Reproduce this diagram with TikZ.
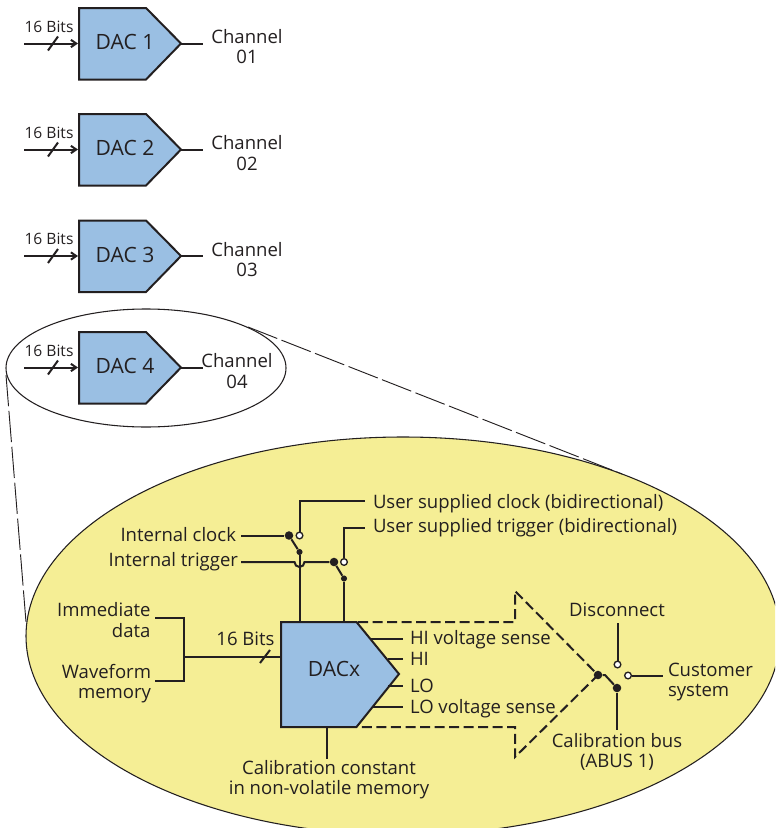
\documentclass[tikz,border=0pt]{standalone}
\usepackage{fontspec}
\setmainfont{Open Sans}
\usetikzlibrary{arrows.meta,calc}
\definecolor{dacblue}{HTML}{9ABFE3}
\definecolor{padyellow}{HTML}{F5EE95}
\definecolor{ink}{HTML}{231F20}
\tikzset{
  x=0.75pt,y=-0.75pt,
  wire/.style={draw=ink,line width=1.5pt},
  thinwire/.style={draw=ink,line width=1.5pt},
  dashwire/.style={draw=ink,line width=1.5pt,dash pattern=on 7.5pt off 3.4pt},
  zoomline/.style={draw=ink,line width=0.7pt,dash pattern=on 23.5pt off 3.5pt},
  dacbody/.style={draw=ink,line width=1.5pt,fill=dacblue,line join=miter},
  lbl/.style={text=ink,inner sep=0pt,outer sep=0pt,font=\fontsize{13.9}{15.4}\selectfont,align=center},
  small/.style={text=ink,inner sep=0pt,outer sep=0pt,font=\fontsize{11.7}{13}\selectfont},
  dac/.style={text=ink,inner sep=0pt,font=\fontsize{15.8}{17}\selectfont},
  closedpt/.style={circle,fill=ink,inner sep=0pt,minimum size=6.4pt},
  smallpt/.style={circle,fill=ink,inner sep=0pt,minimum size=4.6pt},
  openpt/.style={circle,draw=ink,fill=white,line width=1pt,inner sep=0pt,minimum size=5pt},
}
\newcommand{\dacunit}[2]{% y-top, number
  \begin{scope}[shift={(0,#1)}]
    \path[dacbody] (79,0) -- (146,0) -- (181,35.5) -- (146,71.5) -- (79,71.5) -- cycle;
    \coordinate (tip#2) at (181,35.5);
    \coordinate (in#2) at (78,35.5);
    \coordinate (st#2) at (24,35.5);
    \coordinate (sa#2) at (48,42.5);
    \coordinate (sb#2) at (58,28.5);
    \node[dac] (dac#2) at (125,34) {DAC #2};
    \node[small] (bits#2) at (49,18.5) {16 Bits};
    \draw[thinwire,-{Straight Barb[length=4pt,width=5.5pt]}] (st#2) -- (in#2);
    \draw[thinwire] (sa#2) -- (sb#2);
  \end{scope}
}
\begin{document}
\begin{tikzpicture}
\useasboundingbox (0,0) rectangle (775,828);
\begin{scope}
\clip (0,0) rectangle (775,828);
\coordinate (ellc) at (403,636);
\path[fill=padyellow,draw=ink,line width=0.8pt] (ellc) ellipse [x radius=377,y radius=199];
\end{scope}
% small ellipse
\draw[draw=ink,line width=0.8pt] (146,368) ellipse [x radius=140,y radius=59];
\coordinate (za) at (248,327);
\coordinate (zb) at (622,474);
\coordinate (zc) at (6,375);
\coordinate (zd) at (26,622);
\path[zoomline] (za) -- (zb);
\path[zoomline] (zc) -- (zd);
% upper DACs
\dacunit{8}{1}
\dacunit{114}{2}
\dacunit{220.5}{3}
\dacunit{332}{4}
\node[lbl] (ch1) at (247,46.5) {Channel\\01};
\node[lbl] (ch2) at (247,153) {Channel\\02};
\node[lbl] (ch3) at (247,259.5) {Channel\\03};
\node[lbl] (ch4) at (237,371) {Channel\\04};
\draw[wire] (tip1) -- (203,43.5);
\draw[wire] (tip2) -- (203,149.5);
\draw[wire] (tip3) -- (203,256);
\draw[wire] (tip4) -- (203,367.5);
% dashed big arrow
\coordinate (d1) at (358,622);
\coordinate (d2) at (515,622);
\coordinate (d3) at (515,591);
\coordinate (d4) at (598,675);
\coordinate (d5) at (515,757);
\coordinate (d6) at (515,727);
\coordinate (d7) at (358,727);
\path[dashwire] (d1) -- (d2) -- (d3) -- (d4) -- (d5) -- (d6) -- (d7);
% DACx
\path[dacbody] (281,622) -- (356.5,622) -- (399,674) -- (356.5,727) -- (281,727) -- cycle;
\node[dac] (dacx) at (334,669) {DACx};
\coordinate (xt1) at (299.5,622);
\coordinate (xt2) at (344,622);
\coordinate (xl) at (281,656.5);
\coordinate (xb) at (327,727);
% output labels
\node[lbl,anchor=west] (hvs) at (410,640) {HI voltage sense};
\node[lbl,anchor=west] (hi) at (410,658.5) {HI};
\node[lbl,anchor=west] (lo) at (410,686) {LO};
\node[lbl,anchor=west] (lvs) at (410,708.5) {LO voltage sense};
\coordinate (ohvs) at (371,639);
\coordinate (ohi) at (388,659);
\coordinate (olo) at (388,685.5);
\coordinate (olvs) at (372,707);
\draw[wire,shorten >=5pt] (ohvs) -- (ohvs -| hvs.west);
\draw[wire,shorten >=5pt] (ohi) -- (ohi -| hi.west);
\draw[wire,shorten >=5pt] (olo) -- (olo -| lo.west);
\draw[wire,shorten >=5pt] (olvs) -- (olvs -| lvs.west);
% calibration constant
\node[lbl] (cal) at (329,779.5) {Calibration constant\\in non-volatile memory};
\draw[wire] (xb) -- (327,759);
% left inputs
\node[lbl,align=right,anchor=east] (imm) at (150.5,620) {Immediate\\data};
\node[lbl,align=right,anchor=east] (wav) at (151,683.5) {Waveform\\memory};
\coordinate (bra) at (184,618);
\coordinate (brb) at (184,681);
\coordinate (brc) at (184,656.5);
\draw[wire] (155,618) -- (bra) -- (brb) -- (155,681);
\draw[wire] (brc) -- (xl);
\draw[thinwire] (260,663) -- (270,650);
\node[small,font=\fontsize{13.9}{15}\selectfont] (bitsx) at (245.5,639) {16 Bits};
% clock switch
\node[lbl,anchor=east] (iclk) at (236,535) {Internal clock};
\node[lbl,anchor=east] (itrg) at (238,562) {Internal trigger};
\node[closedpt] (c1) at (289,535.5) {};
\node[openpt] (o1) at (299.5,535.5) {};
\node[smallpt] (p1) at (299.5,552) {};
\node[closedpt] (c2) at (334,562) {};
\node[openpt] (o2) at (344,562) {};
\node[smallpt] (p2) at (344,578.5) {};
\node[lbl,anchor=west] (uclk) at (373,504) {User supplied clock (bidirectional)};
\node[lbl,anchor=west] (utrg) at (373,528) {User supplied trigger (bidirectional)};
\draw[wire] (241,535.5) -- (c1);
\draw[wire] (c1) -- (p1);
\draw[wire] (c2) -- (p2);
\draw[wire] (o1) -- (299.5,501) -- (365,501);
\draw[wire] (o2) -- (344,527.5) -- (365,527.5);
\draw[wire] (p1) -- (xt1);
\draw[wire] (p2) -- (xt2);
\draw[wire] (241,562) -- (294.5,562) arc[start angle=180,end angle=0,radius=5] -- (c2);
% output switch
\node[closedpt] (c3) at (598,675) {};
\node[closedpt] (c4) at (617,688) {};
\node[openpt] (o3) at (617.5,664.5) {};
\node[openpt] (o4) at (628,675.5) {};
\node[lbl] (disc) at (617,610) {Disconnect};
\node[lbl,anchor=west,align=left] (cust) at (668,682) {Customer\\system};
\node[lbl] (bus) at (617,752) {Calibration bus\\(ABUS 1)};
\draw[wire] (c3) -- (605,675) -- (c4);
\draw[wire] (617.5,623) -- (o3);
\draw[wire] (o4) -- (663,675.5);
\draw[wire] (c4) -- (617,730);
\end{tikzpicture}
\end{document}
